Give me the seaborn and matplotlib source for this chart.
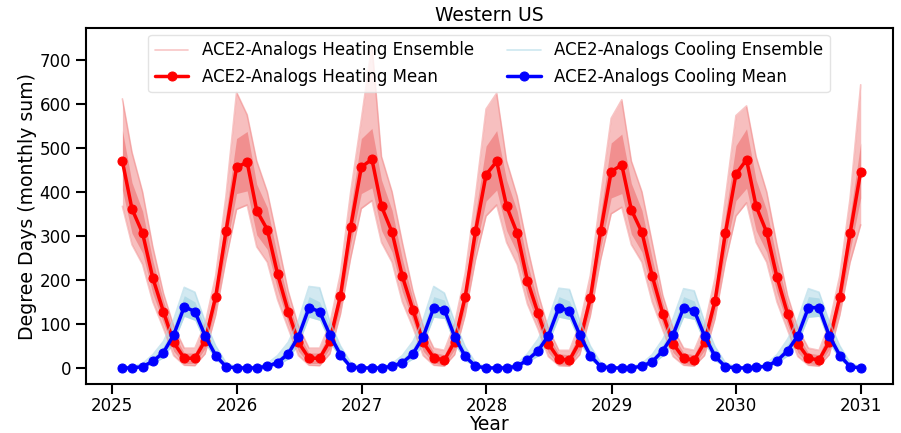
import numpy as np
import pandas as pd
import matplotlib
matplotlib.use("Agg")
import matplotlib.pyplot as plt
import matplotlib.dates as mdates
import seaborn as sns

# ---------------- data ----------------
dates = pd.date_range("2025-01-31", periods=72, freq="ME")

heat_mean = [469, 361, 306, 204, 128, 58, 22, 22, 62, 162, 310, 456,
             467, 357, 314, 213, 128, 58, 22, 22, 62, 164, 321, 456,
             474, 367, 308, 208, 132, 58, 23, 18, 60, 162, 310, 439,
             469, 367, 306, 198, 124, 55, 20, 18, 60, 158, 310, 446,
             461, 359, 308, 209, 123, 55, 22, 18, 58, 153, 306, 440,
             473, 367, 308, 206, 123, 55, 22, 18, 60, 162, 306, 446]

heat_lo = [404, 306, 261, 169, 103, 38, 10, 10, 44, 137, 270, 396,
           402, 302, 269, 178, 103, 38, 10, 10, 44, 139, 281, 396,
           409, 312, 263, 173, 107, 38, 11, 6, 42, 137, 270, 379,
           404, 312, 261, 163, 99, 35, 8, 6, 42, 133, 270, 386,
           396, 304, 263, 174, 98, 35, 10, 6, 40, 128, 266, 380,
           408, 312, 263, 171, 98, 35, 10, 6, 42, 137, 266, 386]

heat_hi = [539, 421, 356, 244, 153, 78, 34, 34, 82, 187, 350, 521,
           537, 417, 364, 253, 153, 78, 34, 34, 82, 189, 361, 521,
           544, 427, 358, 248, 157, 78, 35, 30, 80, 187, 350, 504,
           539, 427, 356, 238, 149, 75, 32, 30, 80, 183, 350, 511,
           531, 419, 358, 249, 148, 75, 34, 30, 78, 178, 346, 505,
           543, 427, 358, 246, 148, 75, 34, 30, 80, 187, 346, 511]

heat_max = [611, 490, 400, 275, 170, 95, 45, 45, 100, 210, 390, 626,
            575, 470, 400, 290, 175, 95, 45, 45, 100, 215, 400, 564,
            735, 480, 400, 285, 175, 95, 45, 40, 100, 215, 390, 588,
            624, 470, 390, 275, 170, 90, 40, 40, 100, 210, 390, 567,
            609, 470, 400, 285, 165, 90, 45, 40, 95, 205, 385, 573,
            595, 480, 400, 280, 165, 90, 45, 40, 100, 210, 385, 643]

heat_min = [367, 280, 235, 150, 90, 28, 6, 5, 32, 120, 245, 360,
            370, 275, 240, 155, 90, 28, 6, 5, 32, 122, 250, 362,
            380, 285, 240, 150, 92, 28, 6, 4, 30, 120, 245, 345,
            370, 285, 235, 145, 88, 26, 5, 4, 30, 118, 245, 350,
            365, 280, 240, 150, 86, 26, 6, 4, 28, 112, 240, 345,
            375, 285, 240, 150, 86, 26, 6, 4, 30, 120, 240, 325]

cool_mean = [0, 0, 3, 15, 35, 75, 139, 128, 73, 28, 3, 0,
             0, 0, 4, 12, 32, 71, 137, 128, 75, 30, 2, 0,
             0, 0, 4, 12, 32, 71, 137, 132, 71, 26, 4, 0,
             0, 0, 4, 18, 39, 73, 137, 130, 75, 28, 3, 0,
             0, 0, 4, 14, 39, 75, 137, 130, 73, 26, 3, 0,
             0, 1, 4, 16, 39, 73, 137, 137, 73, 28, 3, 0]

cool_lo = [0, 0, 1, 9, 23, 57, 117, 108, 55, 18, 1, 0,
           0, 0, 2, 6, 20, 53, 115, 108, 57, 20, 0, 0,
           0, 0, 2, 6, 20, 53, 115, 112, 53, 16, 2, 0,
           0, 0, 2, 12, 27, 55, 115, 110, 57, 18, 1, 0,
           0, 0, 2, 8, 27, 57, 115, 110, 55, 16, 1, 0,
           0, 1, 2, 10, 27, 55, 115, 117, 55, 18, 1, 0]

cool_hi = [1, 2, 7, 23, 49, 95, 164, 150, 93, 40, 8, 1,
           1, 2, 8, 20, 46, 91, 162, 150, 95, 42, 7, 1,
           1, 2, 8, 20, 46, 91, 162, 154, 91, 38, 9, 1,
           1, 2, 8, 26, 53, 93, 162, 152, 95, 40, 8, 1,
           1, 2, 8, 22, 53, 95, 162, 152, 93, 38, 8, 1,
           1, 3, 8, 24, 53, 93, 162, 159, 93, 40, 8, 1]

cool_max = [2, 3, 10, 30, 60, 110, 183, 172, 105, 50, 12, 2,
            2, 3, 10, 28, 58, 108, 185, 182, 105, 50, 12, 2,
            2, 3, 10, 28, 60, 110, 185, 170, 105, 48, 12, 2,
            2, 3, 10, 32, 65, 110, 181, 178, 108, 50, 12, 2,
            2, 3, 10, 30, 65, 112, 180, 175, 105, 48, 12, 2,
            2, 3, 10, 30, 65, 110, 180, 172, 105, 50, 12, 2]

# ---------------- plot ----------------
sns.set_style("ticks")
plt.rcParams["font.family"] = ["DejaVu Sans"]
plt.rcParams["text.color"] = "black"
plt.rcParams["axes.labelcolor"] = "black"

df = pd.DataFrame({"date": dates, "heat_mean": heat_mean, "heat_lo": heat_lo,
                   "heat_hi": heat_hi, "heat_max": heat_max, "heat_min": heat_min,
                   "cool_mean": cool_mean, "cool_lo": cool_lo, "cool_hi": cool_hi,
                   "cool_max": cool_max})

fig = plt.figure(figsize=(9.01, 4.33), dpi=100)
ax = fig.add_axes([85.5 / 901, 1 - 384 / 433, (892.5 - 85.5) / 901, (384 - 28) / 433])

hc = "#f08080"
cc = "#add8e6"

# heating ensemble
ax.fill_between(df["date"], df["heat_min"], df["heat_max"], color=hc, alpha=0.5, lw=0)
ax.fill_between(df["date"], df["heat_lo"], df["heat_hi"], color=hc, alpha=0.75, lw=0)
sns.lineplot(data=df, x="date", y="heat_max", ax=ax, color=hc, alpha=0.45, lw=1.2,
             label="ACE2-Analogs Heating Ensemble")
sns.lineplot(data=df, x="date", y="heat_min", ax=ax, color=hc, alpha=0.45, lw=1.2)
sns.lineplot(data=df, x="date", y="heat_mean", ax=ax, color="red", lw=2.5, marker="o",
             markersize=6.5, markeredgecolor="red", label="ACE2-Analogs Heating Mean")

# cooling ensemble
ax.fill_between(df["date"], df["cool_lo"], df["cool_max"], color=cc, alpha=0.55, lw=0)
ax.fill_between(df["date"], df["cool_lo"], df["cool_hi"], color=cc, alpha=0.85, lw=0)
sns.lineplot(data=df, x="date", y="cool_max", ax=ax, color=cc, alpha=0.6, lw=1.2,
             label="ACE2-Analogs Cooling Ensemble")
sns.lineplot(data=df, x="date", y="cool_mean", ax=ax, color="blue", lw=2.5, marker="o",
             markersize=6.5, markeredgecolor="blue", label="ACE2-Analogs Cooling Mean")

ax.set_ylim(-36.5, 772)
ax.set_xlim(pd.Timestamp("2024-10-15"), pd.Timestamp("2031-04-03"))
ax.set_yticks([0, 100, 200, 300, 400, 500, 600, 700])
ax.xaxis.set_major_locator(mdates.YearLocator())
ax.xaxis.set_major_formatter(mdates.DateFormatter("%Y"))

ax.set_title("Western US", fontsize=13.5, pad=5, color="black")
ax.set_xlabel("Year", fontsize=13.5, labelpad=0, color="black")
ax.set_ylabel("Degree Days (monthly sum)", fontsize=13.6, labelpad=2, color="black")
ax.tick_params(axis="both", labelsize=12, length=7, width=1.5, colors="black")
ax.tick_params(axis="x", pad=2.5)
for s in ax.spines.values():
    s.set_linewidth(1.5)
    s.set_color("black")

leg = ax.legend(loc="upper center", ncol=2, fontsize=12, frameon=True,
                bbox_to_anchor=(0.5, 1.0), columnspacing=2.0, handlelength=2.0,
                borderaxespad=0.4, labelcolor="black")
leg.get_frame().set_edgecolor("#dddddd")

fig.savefig("out.png", dpi=100)
